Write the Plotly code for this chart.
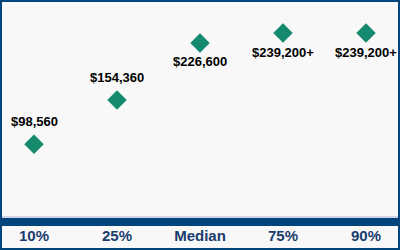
import plotly.graph_objects as go

categories = ["10%", "25%", "Median", "75%", "90%"]
values = [98560, 154360, 226600, 239200, 239200]
labels = ["$98,560", "$154,360", "$226,600", "$239,200+", "$239,200+"]
label_above = [True, True, False, False, False]

BLUE = "#00447c"
FONT = "Liberation Sans, Arial"
fig = go.Figure()
fig.add_trace(go.Scatter(
    x=categories, y=values, mode="markers",
    marker=dict(symbol="diamond", size=15, color="#168a6f"),
    cliponaxis=False, hoverinfo="skip",
))
for c, v, t, up in zip(categories, values, labels, label_above):
    fig.add_annotation(x=c, y=v, text=t, showarrow=False,
                       yshift=23 if up else -19,
                       font=dict(family=FONT, size=13, color="#000000", weight="bold"))

H_PLOT = 222
fig.update_layout(
    width=400, height=250,
    margin=dict(l=0, r=0, t=0, b=250 - H_PLOT),
    paper_bgcolor="#f8f8f8", plot_bgcolor="#f8f8f8",
    showlegend=False,
    xaxis=dict(type="category", range=[-0.41, 4.41], showgrid=False, zeroline=False,
               showline=False, ticks="", ticklabelstandoff=3,
               tickfont=dict(family=FONT, size=15, color="#1a3c6e", weight="bold")),
    yaxis=dict(range=[0, 281000], visible=False, showgrid=False),
    shapes=[
        dict(type="line", xref="paper", yref="paper", x0=0, x1=1, y0=(H_PLOT - 217) / H_PLOT,
             y1=(H_PLOT - 217) / H_PLOT, line=dict(color="#9fb3cc", width=1)),
        dict(type="line", xref="paper", yref="paper", x0=0, x1=1, y0=0, y1=0,
             line=dict(color=BLUE, width=8)),
        dict(type="rect", xref="paper", yref="paper", x0=0, x1=1,
             y0=-(250 - H_PLOT) / H_PLOT, y1=1, line=dict(color=BLUE, width=4),
             fillcolor="rgba(0,0,0,0)"),
    ],
)
fig.write_html("out.html")
